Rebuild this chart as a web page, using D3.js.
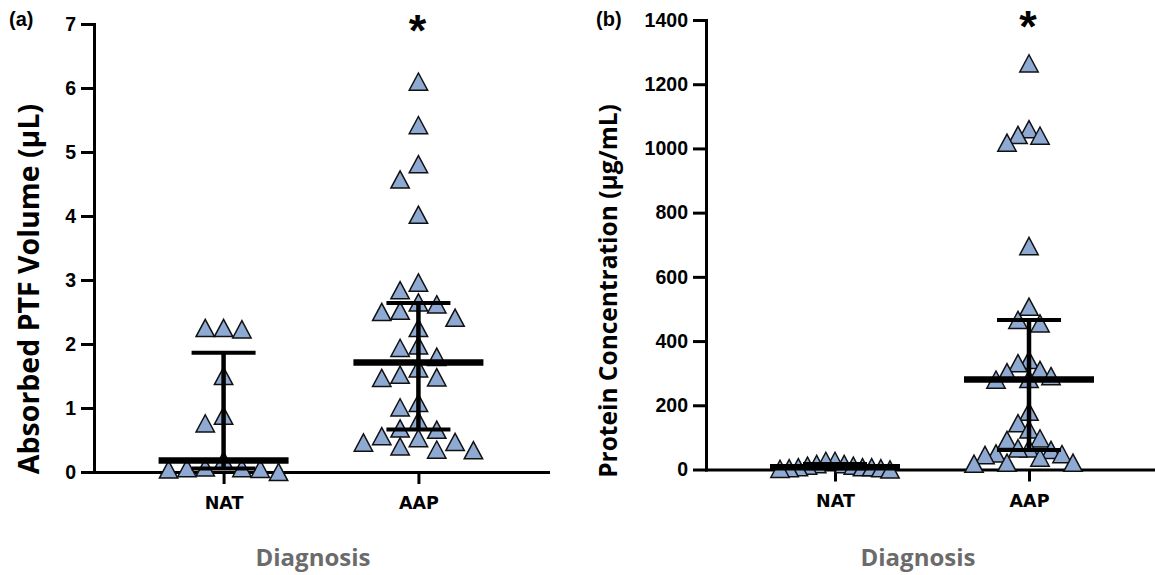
<!DOCTYPE html>
<html>
<head>
<meta charset="utf-8">
<script src="https://cdn.jsdelivr.net/npm/d3@7"></script>
<style>
  body { margin: 0; background: #fff; }
  svg { display: block; }
</style>
</head>
<body>
<svg id="chart" width="1155" height="575"></svg>
<script>
// Groups on the x axis
var groups = ["NAT", "AAP"];

// Panel (a): absorbed PTF volume (µL), one value per subject
var ptfNAT = [2.25, 2.25, 2.23, 1.50, 0.88, 0.76, 0.18, 0.07, 0.06, 0.06, 0.05, 0.04, 0.00];
var ptfAAP = [6.10, 5.42, 4.81, 4.57, 4.02, 2.96, 2.84, 2.65, 2.62, 2.52, 2.50, 2.41, 2.25,
  1.98, 1.94, 1.80, 1.62, 1.52, 1.48, 1.47, 1.08, 1.01, 0.80, 0.68, 0.66, 0.56, 0.53,
  0.47, 0.46, 0.40, 0.35, 0.34];
var ptfTicks = [0, 1, 2, 3, 4, 5, 6, 7];

// Panel (b): protein concentration (µg/mL)
var protNAT = [27, 27, 17, 17, 12, 12, 7, 7, 7, 4, 4, 2, 0];
var protAAP = [1265, 1060, 1042, 1040, 1018, 696, 507, 466, 455, 341, 331, 310, 303, 291,
  282, 280, 180, 144, 125, 97, 92, 66, 66, 61, 50, 48, 45, 37, 21, 21, 18];
var protTicks = [0, 200, 400, 600, 800, 1000, 1200, 1400];

var fill = "#8eaad3";
var tickFont = "'Liberation Sans', Arial, sans-serif";
var titleFont = "'Open Sans', 'Noto Sans', sans-serif";

var svg = d3.select("#chart");

// quartiles the way Prism computes them: position (n+1)p
function quant(sorted, p) {
  var n = sorted.length;
  var h = (n + 1) * p;
  var i = Math.floor(h);
  if (i < 1) return sorted[0];
  if (i >= n) return sorted[n - 1];
  return sorted[i - 1] + (h - i) * (sorted[i] - sorted[i - 1]);
}

// simple column swarm: each point goes to the nearest free slot
function swarm(vals, y, h) {
  var placed = [];
  vals.forEach(function(v) {
    var py = y(v), k = 0;
    for (var j = 0; j < 50; j++) {
      k = j === 0 ? 0 : (j % 2 ? -Math.ceil(j / 2) : j / 2);
      var hit = placed.some(function(p) { return p.k === k && Math.abs(p.y - py) < h; });
      if (!hit) break;
    }
    placed.push({v: v, y: py, k: k});
  });
  return placed;
}

function panel(cfg) {
  var g = svg.append("g");

  var y = d3.scaleLinear().domain([0, cfg.ticks[cfg.ticks.length - 1]]).range([cfg.y0, cfg.y1]);
  var x = d3.scalePoint().domain(groups).range([cfg.x0, cfg.x1]).padding(0.665);

  // Y axis
  var ya = g.append("g")
    .attr("transform", "translate(" + cfg.x0 + ",0)")
    .call(d3.axisLeft(y).tickValues(cfg.ticks).tickFormat(d3.format("d"))
      .tickSizeInner(13).tickSizeOuter(0).tickPadding(5));
  // X axis
  var xa = g.append("g")
    .attr("transform", "translate(0," + cfg.y0 + ")")
    .call(d3.axisBottom(x).tickSizeInner(12).tickSizeOuter(0).tickPadding(13));

  [ya, xa].forEach(function(a) {
    a.select(".domain").attr("stroke", "#000").attr("stroke-width", 3).attr("stroke-linecap", "square");
    a.selectAll(".tick line").attr("stroke", "#000").attr("stroke-width", 3);
  });
  ya.selectAll("text")
    .attr("fill", "#000")
    .style("font-family", tickFont).style("font-weight", "bold").style("font-size", "19.5px");
  xa.selectAll("text")
    .attr("fill", "#000")
    .style("font-family", "'DejaVu Sans', sans-serif").style("font-weight", "bold").style("font-size", "17.5px");

  // points
  var tri = "M0,-8.6L9.2,8.6L-9.2,8.6Z";
  var sets = [cfg.nat, cfg.aap];
  sets.forEach(function(vals, gi) {
    var pts = swarm(vals, y, 17);
    var maxK = d3.max(pts, function(p) { return Math.abs(p.k); }) || 1;
    var step = Math.min(18.33, 55 / maxK);
    var cx = x(groups[gi]);
    g.append("g").selectAll("path")
      .data(pts)
      .enter().append("path")
      .attr("d", tri)
      .attr("transform", function(p) { return "translate(" + (cx + p.k * step) + "," + p.y + ")"; })
      .attr("fill", fill)
      .attr("stroke", "#111")
      .attr("stroke-width", 1.5)
      .attr("stroke-linejoin", "miter");
  });

  // median with interquartile range
  sets.forEach(function(vals, gi) {
    var s = vals.slice().sort(d3.ascending);
    var q1 = quant(s, 0.25), med = quant(s, 0.5), q3 = quant(s, 0.75);
    var cx = x(groups[gi]);
    var eb = g.append("g").attr("stroke", "#000");
    eb.append("line").attr("x1", cx).attr("x2", cx).attr("y1", y(q1)).attr("y2", y(q3)).attr("stroke-width", 4.5);
    [q1, q3].forEach(function(q) {
      eb.append("line").attr("x1", cx - 32).attr("x2", cx + 32).attr("y1", y(q)).attr("y2", y(q)).attr("stroke-width", 4);
    });
    eb.append("line").attr("x1", cx - 65).attr("x2", cx + 65).attr("y1", y(med)).attr("y2", y(med)).attr("stroke-width", 6.5);
  });

  // significance star over AAP
  g.append("text")
    .attr("x", x("AAP") - 1)
    .attr("y", cfg.starY)
    .attr("text-anchor", "middle")
    .style("font-family", tickFont).style("font-weight", "bold").style("font-size", "45px")
    .text("*");

  // panel letter
  g.append("text")
    .attr("x", cfg.letterX).attr("y", 26)
    .style("font-family", tickFont).style("font-weight", "bold").style("font-size", "20px")
    .text(cfg.letter);

  // y title
  g.append("text")
    .attr("transform", "translate(" + cfg.titleX + "," + cfg.titleY + ") rotate(-90)")
    .attr("text-anchor", "middle")
    .style("font-family", titleFont).style("font-weight", "bold").style("font-size", cfg.titleSize + "px")
    .attr("fill", "#000")
    .text(cfg.title);

  // x title
  g.append("text")
    .attr("x", (cfg.x0 + cfg.x1) / 2 - cfg.xtShift)
    .attr("y", 566)
    .attr("text-anchor", "middle")
    .style("font-family", titleFont).style("font-weight", "bold").style("font-size", "24px")
    .attr("fill", "#6b6b6b")
    .text("Diagnosis");
}

panel({
  x0: 94, x1: 548, y0: 472, y1: 24,
  ticks: ptfTicks, nat: ptfNAT, aap: ptfAAP,
  starY: 46, letter: "(a)", letterX: 9,
  title: "Absorbed PTF Volume (µL)", titleX: 39, titleY: 289, titleSize: 28.5,
  xtShift: 8
});

panel({
  x0: 706, x1: 1158, y0: 469.5, y1: 20,
  ticks: protTicks, nat: protNAT, aap: protAAP,
  starY: 42, letter: "(b)", letterX: 596,
  title: "Protein Concentration (µg/mL)", titleX: 617, titleY: 291, titleSize: 24.5,
  xtShift: 14
});
</script>
</body>
</html>
